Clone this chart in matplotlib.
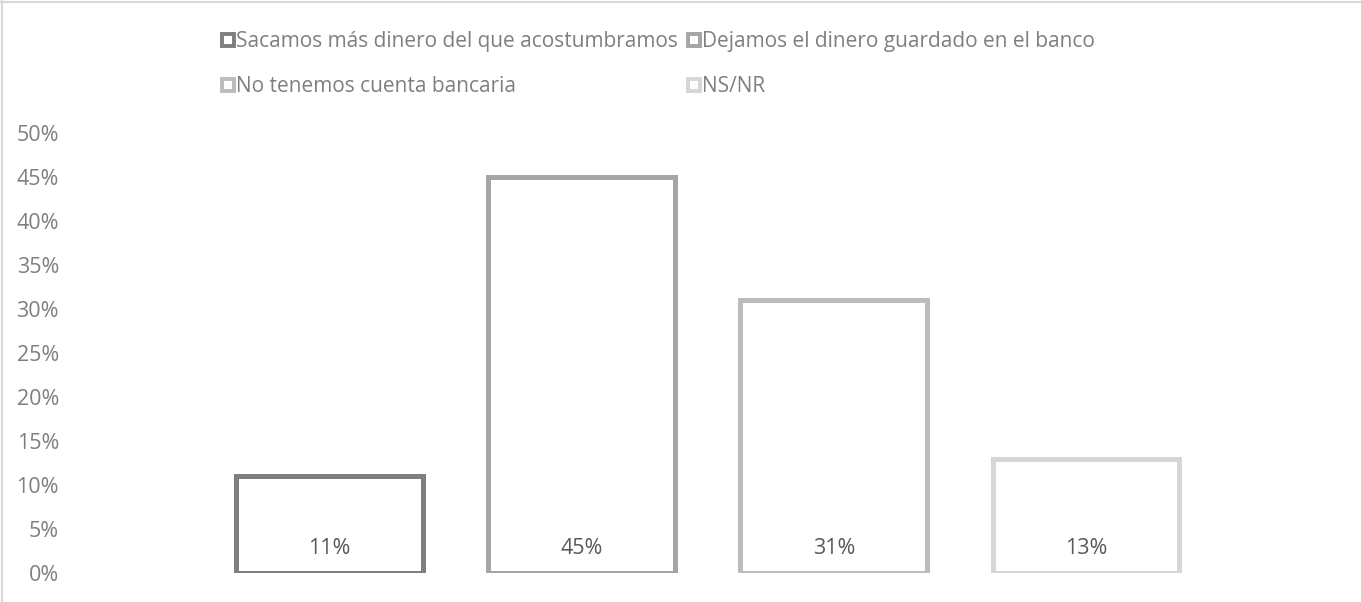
import matplotlib
matplotlib.use("Agg")
import matplotlib.pyplot as plt
from matplotlib.lines import Line2D
from matplotlib.ticker import MultipleLocator, FuncFormatter

plt.rcParams['font.family'] = ['Open Sans', 'DejaVu Sans']

categorias = ['Sacamos más dinero del que acostumbramos',
              'Dejamos el dinero guardado en el banco',
              'No tenemos cuenta bancaria',
              'NS/NR']
valores = [11, 45, 31, 13]
colores = ['#7f7f7f', '#a5a5a5', '#bcbcbc', '#d6d6d6']

texto = '#7f7f7f'

fig = plt.figure(figsize=(13.61, 6.02), dpi=100)
ax = fig.add_axes([0.1495, 0.048, 0.741, 0.731])

x = list(range(len(valores)))
barras = ax.bar(x, valores, width=0.74, facecolor='white',
                edgecolor=colores, linewidth=3.6)

for xi, v in zip(x, valores):
    ax.annotate(f'{v}%', (xi, 0), xytext=(0, 18), textcoords='offset points',
                ha='center', va='center', fontsize=15.5, color='#595959')

ax.set_xlim(-0.5, len(valores) - 0.5)
ax.set_ylim(0, 50)
ax.yaxis.set_major_locator(MultipleLocator(5))
ax.yaxis.set_major_formatter(FuncFormatter(lambda v, p: f'{v:.0f}%'))
ax.set_xticks([])
ax.tick_params(axis='y', length=0, pad=104, labelsize=15.5, labelcolor=texto)
for s in ax.spines.values():
    s.set_visible(False)

# legend: marker boxes, two per row
handles = [Line2D([], [], linestyle='none', marker='s', markersize=9,
                  markerfacecolor='white', markeredgecolor=c,
                  markeredgewidth=2.8) for c in colores]
orden = [0, 2, 1, 3]
leg = fig.legend([handles[i] for i in orden], [categorias[i] for i in orden],
                 ncol=2, loc='upper left', bbox_to_anchor=(0.155, 0.966),
                 frameon=False, fontsize=15, labelcolor=texto,
                 handlelength=0.65, handletextpad=0.05, columnspacing=0.45,
                 labelspacing=1.15, borderpad=0)

# thin frame along the top and left edges
fig.add_artist(Line2D([0, 1], [0.9975, 0.9975], color='#d9d9d9', lw=1.5,
                      transform=fig.transFigure))
fig.add_artist(Line2D([0.0012, 0.0012], [0, 1], color='#d9d9d9', lw=1.5,
                      transform=fig.transFigure))

fig.savefig('out.png', dpi=100)
